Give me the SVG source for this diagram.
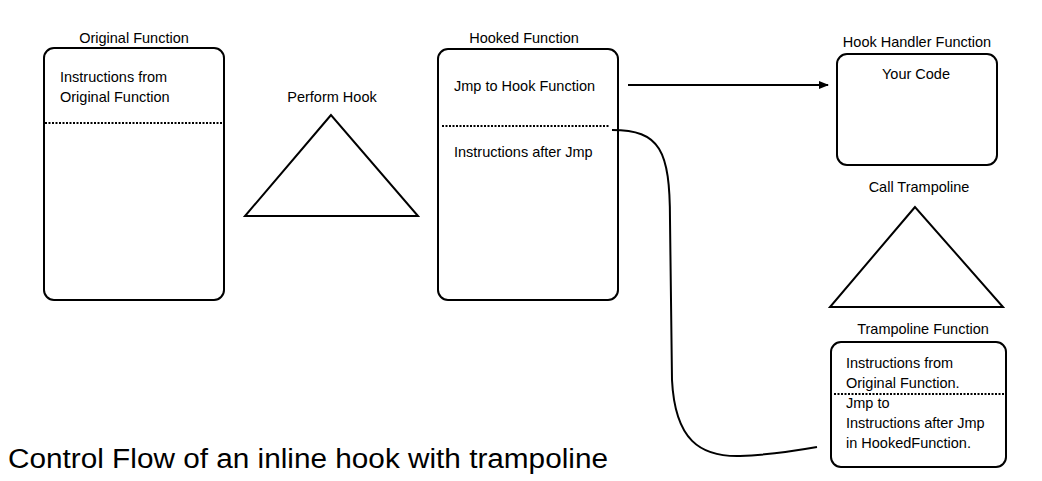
<svg xmlns="http://www.w3.org/2000/svg" width="1042" height="481" viewBox="0 0 1042 481">
<style>
text{font-family:"Liberation Sans",Arial,sans-serif;font-size:14.5px;fill:#000}
.box{fill:#fff;stroke:#000;stroke-width:2}
.dot{stroke:#000;stroke-width:2;stroke-dasharray:2,1.5;fill:none}
.tri{fill:#fff;stroke:#000;stroke-width:2}
.c{text-anchor:middle}
.conn{fill:none;stroke:#000;stroke-width:2}
</style>
<defs>
<marker id="ah" markerWidth="10" markerHeight="8" refX="9" refY="4" orient="auto" markerUnits="userSpaceOnUse">
<path d="M0,0 L10,4 L0,8 Z" fill="#000"/>
</marker>
</defs>
<rect width="1042" height="481" fill="#fff"/>
<g id="original">
<text class="c" x="134" y="43">Original Function</text>
<rect class="box" x="44" y="48" width="180" height="252" rx="10"/>
<text x="60" y="82">Instructions from</text>
<text x="60" y="102">Original Function</text>
<line class="dot" x1="45" y1="123" x2="222" y2="123"/>
</g>
<g id="perform-hook">
<text class="c" x="332" y="102">Perform Hook</text>
<polygon class="tri" points="331,115 245,216 418,216"/>
</g>
<g id="hooked">
<text class="c" x="524" y="43">Hooked Function</text>
<rect class="box" x="438" y="49" width="180" height="251" rx="10"/>
<text x="454" y="91">Jmp to Hook Function</text>
<line class="dot" x1="442" y1="126" x2="610" y2="126"/>
<text x="454" y="157">Instructions after Jmp</text>
</g>
<g id="handler">
<text class="c" x="917" y="47">Hook Handler Function</text>
<rect class="box" x="837" y="54" width="160" height="111" rx="10"/>
<text class="c" x="916" y="79">Your Code</text>
</g>
<g id="call-trampoline">
<text class="c" x="919" y="192">Call Trampoline</text>
<polygon class="tri" points="915,207 830,307 1003,307"/>
</g>
<g id="trampoline">
<text class="c" x="923" y="334">Trampoline Function</text>
<rect class="box" x="831" y="342" width="175" height="125" rx="10"/>
<text x="846" y="368">Instructions from</text>
<text x="846" y="388">Original Function.</text>
<line class="dot" x1="834" y1="394" x2="1006" y2="394"/>
<text x="846" y="408">Jmp to</text>
<text x="846" y="428">Instructions after Jmp</text>
<text x="846" y="448">in HookedFunction.</text>
</g>
<g id="connectors">
<line class="conn" x1="628" y1="85" x2="828" y2="85" marker-end="url(#ah)"/>
<path class="conn" d="M612,130 C660,130 670,150 670,220 L672,380 C675,440 700,457 740,456 C770,455 800,450 817,447"/>
</g>
<text x="8" y="468" style="font-size:27px" textLength="600" lengthAdjust="spacingAndGlyphs">Control Flow of an inline hook with trampoline</text>
</svg>
